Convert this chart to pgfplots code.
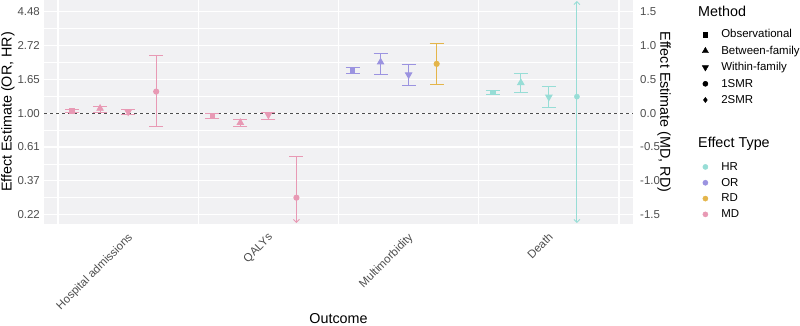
\documentclass[border=0pt]{standalone}
\usepackage{fontspec}
\setmainfont{Liberation Sans}
\usepackage{pgfplots}
\pgfplotsset{compat=1.18}
\usetikzlibrary{arrows.meta}

\definecolor{hrcol}{HTML}{97DDD6}
\definecolor{orcol}{HTML}{9B93E0}
\definecolor{rdcol}{HTML}{E4B54A}
\definecolor{mdcol}{HTML}{E899B4}
\definecolor{panelbg}{HTML}{F1F1F3}
\definecolor{axtext}{HTML}{4D4D4D}

\newcommand\tickfont{\fontsize{11.5}{13}\selectfont}
\newcommand\titlefont{\fontsize{14.4}{17}\selectfont}
\newcommand\ent[1]{\rule[-2.5bp]{0pt}{9.5bp}#1}

\pgfplotsset{
  panelgeom/.style={at={(44bp,0bp)}, anchor=north west, scale only axis,
    width=589bp, height=224bp, xmin=0.4, xmax=4.6, ymin=-1.64, ymax=1.675,
    major tick length=0pt, minor tick length=0pt, axis line style={draw=none}},
  ci/.style={only marks, forget plot, line width=0.9bp,
    error bars/y dir=both, error bars/y explicit,
    error bars/error bar style={line width=0.9bp},
    error bars/error mark options={rotate=90, line width=0.9bp, mark size=7bp}},
  obs/.style={mark=square*, mark size=2.3bp},
  btw/.style={mark=triangle*, mark size=3.6bp},
  wth/.style={mark=triangle*, mark size=3.6bp, mark options={rotate=180}},
  smr/.style={mark=*, mark size=2.6bp},
  keys/.style={legend style={draw=none, fill=none, inner sep=0pt,
      nodes={inner sep=0pt}, column sep=11.7bp, font=\tickfont},
    legend cell align=left,
    legend image code/.code={\path (-4bp,0bp) (4bp,0bp);
      \draw[##1] plot coordinates {(0bp,0bp)};}},
}

\begin{document}
\begin{tikzpicture}[x=1bp, y=1bp]
\path[use as bounding box] (0,0) rectangle (800,-325);

% left scale: ratios on a log axis
\begin{axis}[panelgeom, keys,
  axis background/.style={fill=panelbg},
  xtick={1,2,3,4},
  xticklabels={Hospital admissions, QALYs, Multimorbidity, Death},
  minor xtick={0.5,1.5,2.5,3.5,4.5},
  ytick={-1.5,-1,...,1.5},
  yticklabels={0.22,0.37,0.61,1.00,1.65,2.72,4.48},
  minor ytick={-1.25,-0.75,-0.25,0.25,0.75,1.25},
  xminorgrids, ymajorgrids, yminorgrids,
  major grid style={white, line width=1.2bp},
  minor grid style={white, line width=0.6bp},
  minor x grid style={white, line width=1.1bp},
  yticklabel style={font=\tickfont, text=axtext, anchor=east, inner sep=0pt, xshift=-4bp},
  xticklabel style={font=\tickfont, text=axtext, inner sep=0pt, xshift=-1bp, yshift=-8bp, rotate=45, anchor=north east},
  ylabel={Effect Estimate (OR, HR)},
  every axis y label/.style={at={(axis description cs:-0.0611,0.5)}, rotate=90, anchor=center, font=\titlefont},
  xlabel={Outcome},
  every axis x label/.style={at={(axis description cs:0.5,-0.42)}, anchor=center, font=\titlefont},
  legend style={at={(axis description cs:1.1154,0.869)}, anchor=north west, row sep=6.7bp},
]
% reference line at no effect
\addplot[forget plot, draw=axtext, line width=0.8bp, dash pattern=on 3.3bp off 2.7bp]
  coordinates {(0.4,0) (4.6,0)};

% MD (mean differences)
\addplot[ci, obs, mdcol] coordinates {(0.6,0.035) += (0,0.02) -= (0,0.02)
                                      (1.6,-0.04) += (0,0.04) -= (0,0.045)};
\addplot[ci, btw, mdcol] coordinates {(0.8,0.07) += (0,0.03) -= (0,0.06)
                                      (1.8,-0.14) += (0,0.05) -= (0,0.05)};
\addplot[ci, wth, mdcol] coordinates {(1.0,0.02) += (0,0.04) -= (0,0.04)
                                      (2.0,-0.025) += (0,0.035) -= (0,0.065)};
\addplot[ci, smr, mdcol] coordinates {(1.2,0.32) += (0,0.53) -= (0,0.52)};
\addplot[forget plot, mdcol, line width=0.9bp, -{Straight Barb[length=3bp,width=6bp]}]
  coordinates {(2.2,-0.64) (2.2,-1.625)};
\addplot[ci, smr, mdcol, error bars/y dir=plus] coordinates {(2.2,-1.25) += (0,0.61)};

% OR (odds ratios)
\addplot[ci, obs, orcol] coordinates {(2.6,0.63) += (0,0.04) -= (0,0.04)};
\addplot[ci, btw, orcol] coordinates {(2.8,0.755) += (0,0.135) -= (0,0.175)};
\addplot[ci, wth, orcol] coordinates {(3.0,0.57) += (0,0.155) -= (0,0.155)};

% RD (risk difference)
\addplot[ci, smr, rdcol] coordinates {(3.2,0.73) += (0,0.30) -= (0,0.30)};

% HR (hazard ratios)
\addplot[ci, obs, hrcol] coordinates {(3.6,0.305) += (0,0.03) -= (0,0.035)};
\addplot[ci, btw, hrcol] coordinates {(3.8,0.45) += (0,0.14) -= (0,0.15)};
\addplot[ci, wth, hrcol] coordinates {(4.0,0.24) += (0,0.15) -= (0,0.16)};
\addplot[forget plot, hrcol, line width=0.9bp,
  {Straight Barb[length=3bp,width=6bp]}-{Straight Barb[length=3bp,width=6bp]}]
  coordinates {(4.2,-1.625) (4.2,1.66)};
\addplot[forget plot, only marks, smr, hrcol] coordinates {(4.2,0.245)};

% method key
\addlegendimage{only marks, black, mark=square*, mark size=2.3bp}
\addlegendentry{\ent{Observational}}
\addlegendimage{only marks, black, mark=triangle*, mark size=3.6bp}
\addlegendentry{\ent{Between-family}}
\addlegendimage{only marks, black, mark=triangle*, mark size=3.6bp, mark options={rotate=180}}
\addlegendentry{\ent{Within-family}}
\addlegendimage{only marks, black, mark=*, mark size=2.6bp}
\addlegendentry{\ent{1SMR}}
\addlegendimage{only marks, black, mark=diamond*, mark size=2.6bp}
\addlegendentry{\ent{2SMR}}
\end{axis}

% right scale: differences
\begin{axis}[panelgeom, keys,
  axis x line=none, xtick=\empty, axis y line*=right,
  ytick={-1.5,-1,...,1.5},
  yticklabels={-1.5,-1.0,-0.5,0.0,0.5,1.0,1.5},
  yticklabel style={font=\tickfont, text=axtext, anchor=west, inner sep=0pt, xshift=7bp},
  ylabel={Effect Estimate (MD, RD)},
  every axis y label/.style={at={(axis description cs:1.0526,0.5)}, rotate=-90, anchor=center, font=\titlefont},
  legend style={at={(axis description cs:1.1154,0.2767)}, anchor=north west, row sep=6.4bp},
]
\addlegendimage{only marks, hrcol, mark=*, mark size=2.6bp}
\addlegendentry{\ent{HR}}
\addlegendimage{only marks, orcol, mark=*, mark size=2.6bp}
\addlegendentry{\ent{OR}}
\addlegendimage{only marks, rdcol, mark=*, mark size=2.6bp}
\addlegendentry{\ent{RD}}
\addlegendimage{only marks, mdcol, mark=*, mark size=2.6bp}
\addlegendentry{\ent{MD}}
\end{axis}

\node[anchor=base west, font=\titlefont, inner sep=0pt] at (698,-16.7) {Method};
\node[anchor=base west, font=\titlefont, inner sep=0pt] at (698,-147.3) {Effect Type};
\end{tikzpicture}
\end{document}
